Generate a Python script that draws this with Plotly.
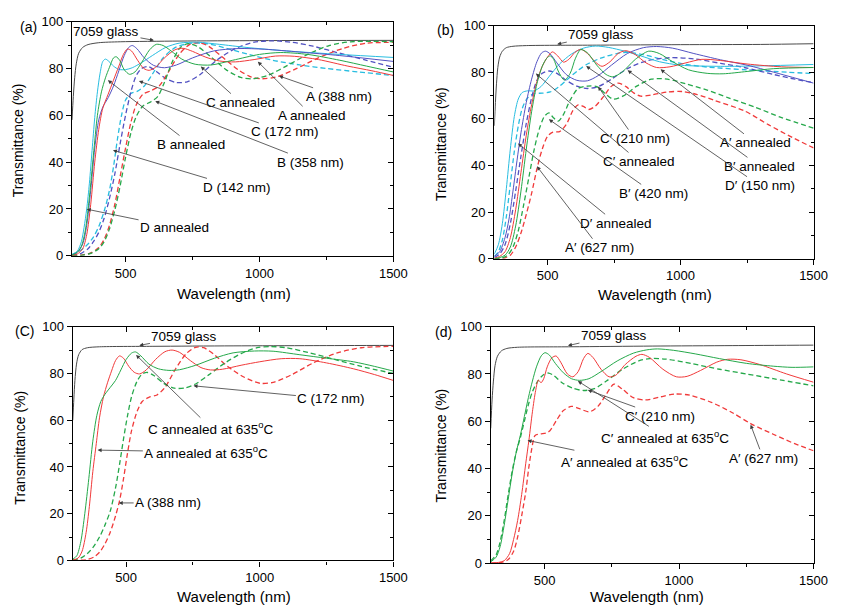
import plotly.graph_objects as go

FONT = "Liberation Sans, Arial, sans-serif"
RED = "#f03a3a"
BLUE = "#5252c2"
GREEN = "#25a84a"
CYAN = "#28bde0"
GLASS = "#4a4a4a"

X_TICKS = [500, 1000, 1500]
Y_TICKS = [0, 20, 40, 60, 80, 100]

# ---------------- panel (a) ----------------
A_GLASS = [(300,58),(305,68),(310,76),(316,82),(325,86.5),(340,89),(360,90.2),(400,91),(480,91.4),(700,91.7),(1000,91.9),(1500,92)]
A_CYAN_S = [(300,0.5),(320,2),(335,6),(345,12),(355,20),(365,31),(375,45),(385,59),(395,70),(405,78),(415,83),(425,84),(438,83),(455,81),(475,79.6),(500,79.5),(525,80.3),(560,82.5),(600,85.5),(650,89),(700,90.8),(770,91.2),(850,90.3),(950,89),(1100,87.5),(1300,86),(1500,84.7)]
A_GREEN_S = [(300,0.3),(320,1.5),(335,4),(350,11),(365,25),(380,43),(395,60),(410,70),(425,76),(440,80.5),(455,84.5),(465,85),(478,83.5),(495,79.5),(515,77.5),(535,78.5),(560,82.5),(590,88),(615,90.3),(640,89.8),(670,87.5),(710,84),(760,81.8),(820,81.5),(900,83.5),(1000,86),(1080,86.8),(1180,86),(1300,83.5),(1400,81),(1500,78.5)]
A_BLUE_S = [(300,0.3),(320,1.5),(340,5),(355,13),(370,28),(385,46),(400,58),(415,63.5),(435,67.5),(455,72.5),(475,79),(495,85.5),(512,89),(525,89.8),(542,88.5),(570,84.5),(605,81.3),(645,80.3),(690,81.5),(750,84.5),(830,87.5),(920,88.5),(1020,88.2),(1150,87),(1300,85.5),(1500,83)]
A_RED_S = [(300,0.2),(320,0.8),(340,3),(355,9),(370,22),(385,40),(400,54),(415,63),(435,69),(455,75),(475,81),(492,86),(507,88.3),(522,87.5),(545,83.5),(568,80),(588,79.2),(612,80.5),(645,84.5),(685,88),(715,88.6),(750,87.3),(800,84.8),(850,83.2),(910,82.8),(980,83.8),(1060,85.3),(1130,85.2),(1220,83.8),(1330,81),(1420,79),(1500,77)]
A_CYAN_D = [(300,0.5),(320,1.5),(340,3),(360,5),(380,8),(400,12.5),(420,19),(440,28),(455,38),(470,50),(485,60),(500,66.5),(520,69.3),(545,70.3),(570,72.5),(600,77.5),(640,84.5),(690,89.2),(750,90.8),(810,90.5),(880,88.5),(960,86),(1050,83.5),(1150,81.5),(1250,80),(1370,78.5),(1500,77)]
A_BLUE_D = [(300,0.2),(330,0.8),(360,3),(380,6),(400,10),(420,16),(440,24.5),(460,35),(480,48),(500,60),(520,70),(540,77),(560,80),(585,80.8),(615,78.7),(650,75.7),(690,74),(730,74.3),(780,77.5),(840,83.5),(910,88.5),(980,91.2),(1050,91.8),(1120,91.2),(1200,89.5),(1300,86.5),(1400,83.5),(1500,80.5)]
A_RED_D = [(300,0),(340,0.4),(370,1.2),(400,3.5),(420,7),(440,13),(460,22),(480,34),(500,46),(520,57),(540,64.5),(565,69),(595,70.5),(625,72.5),(660,78.5),(700,86),(740,90.3),(775,91),(810,89.5),(860,85),(920,79.5),(970,76.3),(1010,75.6),(1060,76.3),(1130,79.5),(1220,84.5),(1310,88.5),(1400,90.8),(1500,91.1)]
A_GREEN_D = [(300,0),(340,0.3),(370,1),(400,3),(420,6),(440,11.5),(460,19.5),(480,30),(500,42),(520,52.5),(540,59.5),(565,64),(595,65.8),(620,68),(645,74),(675,83),(705,89),(735,90.6),(770,89.3),(820,84.8),(875,79.5),(930,76.2),(975,75.6),(1030,77),(1100,81),(1180,86),(1260,89.8),(1340,91.4),(1420,91.6),(1500,91.4)]

# ---------------- panel (b) ----------------
B_GLASS = [(300,57),(304,67),(308,75),(313,82),(320,86.5),(330,89),(345,90.5),(370,91.1),(420,91.4),(700,91.6),(1000,91.8),(1300,91.9),(1500,92.2)]
B_BLUE_S = [(300,1),(320,3),(340,9),(355,17),(370,29),(385,42),(400,54),(420,67),(440,77),(460,84.5),(478,88.3),(493,89),(510,87.8),(535,84),(570,79),(610,76.5),(650,76.3),(690,78.5),(740,83),(800,88),(860,90.5),(910,91),(970,90.3),(1050,88),(1150,85.3),(1250,83),(1350,80),(1420,77.8),(1500,75.3)]
B_CYAN_S = [(300,2),(315,6),(330,15),(345,30),(360,47),(375,61),(390,68.5),(405,71.3),(425,72),(450,72),(475,73.8),(505,78),(545,83.5),(590,87.8),(635,90.3),(680,91.2),(730,90.6),(790,89),(850,87),(920,84.5),(1000,83),(1150,82.5),(1300,82.7),(1500,83.3)]
B_RED_S = [(300,0.2),(320,1),(340,3),(360,9),(380,21),(400,37),(420,53),(440,66),(460,76),(480,82.5),(500,86.5),(518,88.7),(538,87),(560,84.3),(580,85.5),(603,88.5),(625,89.8),(650,88),(680,84.3),(705,82.5),(735,84.5),(765,88),(795,89.2),(830,87.5),(870,84),(910,82),(960,82.3),(1020,84),(1080,85.5),(1150,85),(1250,83.5),(1380,82.3),(1500,82)]
B_GREEN_S = [(300,0),(320,0.5),(340,1.5),(360,5),(380,14),(400,29),(420,47),(440,63),(460,75),(480,82.5),(497,86),(510,87),(523,85.5),(540,80.5),(563,76.6),(585,79.5),(605,86),(625,89.7),(650,88.3),(685,83),(720,79),(745,78),(780,80),(830,85.5),(880,89),(920,88),(970,84.5),(1030,81),(1100,79.5),(1160,79.3),(1250,80.3),(1350,81.5),(1500,82)]
B_CYAN_D = [(300,1),(315,3),(330,8),(345,18),(360,32),(375,46),(390,57),(405,64.5),(425,69),(450,70.8),(480,71),(510,71.5),(540,73.5),(575,77),(615,80.8),(650,83.5),(700,86),(760,88),(800,88.5),(860,87.5),(930,85.5),(1010,83.5),(1100,82.2),(1250,81),(1400,80),(1500,79.4)]
B_BLUE_D = [(300,0.5),(320,2),(340,6),(360,15),(380,29),(400,44),(420,58),(440,69),(460,76.5),(480,79.5),(505,80.5),(535,79.5),(570,76.5),(610,74),(650,73),(690,73.8),(740,77),(800,81.5),(870,84.8),(960,86.2),(1050,85.7),(1150,83.8),(1240,82),(1350,79),(1430,77),(1500,75.5)]
B_GREEN_D = [(300,0),(330,0.4),(350,1.5),(370,5),(390,12),(410,23),(430,35),(450,47),(470,56),(488,61),(505,62.5),(522,60.5),(540,59),(558,61.5),(585,68),(615,73),(650,74),(685,73.8),(715,71),(746,68.5),(785,69.8),(835,74),(890,77),(950,77),(1020,75),(1100,72.3),(1180,69),(1280,65),(1380,60.5),(1500,56)]
B_RED_D = [(300,0),(340,0.4),(360,1.5),(380,5),(400,11),(420,19),(440,28),(460,38.5),(480,47),(500,52.5),(520,54.3),(545,54.5),(570,57.5),(595,63.5),(615,66),(635,65.3),(655,64),(680,65.5),(710,69.5),(740,74),(765,75.3),(795,73.8),(825,71),(850,69.7),(890,70.2),(950,71.5),(1005,71.7),(1060,70.5),(1130,67.8),(1240,63.4),(1330,57.5),(1420,52),(1500,47.5)]

# ---------------- panel (c) ----------------
C_GLASS = [(300,60),(304,69),(308,77),(314,84),(322,88),(335,90.2),(355,91),(400,91.4),(600,91.6),(900,91.8),(1200,91.9),(1500,92)]
C_GREEN_S = [(300,0.5),(315,2),(330,8),(345,20),(360,35),(375,51),(390,62),(405,68),(420,71),(440,74),(460,77),(480,81.5),(500,86),(520,88.7),(535,89.2),(555,87.5),(585,84),(620,82),(660,81.3),(700,81.6),(760,83.5),(830,86.5),(900,88.8),(980,89.6),(1050,89.5),(1150,88),(1250,86.5),(1350,85),(1430,83),(1500,81)]
C_RED_S = [(300,0.2),(320,1),(335,4),(350,12),(362,23),(375,38),(388,50),(400,61),(415,70),(430,76),(445,81),(460,85.5),(475,87.5),(490,86.5),(510,83),(530,80.5),(550,79.8),(575,81.5),(610,86),(645,89.3),(672,90),(700,89),(740,85.5),(780,82.5),(815,81.5),(860,81.8),(930,83.5),(1000,85),(1080,86.3),(1150,86.3),(1250,84.5),(1350,82),(1430,79.5),(1500,77)]
C_GREEN_D = [(300,0.2),(330,1),(355,3),(375,5.5),(400,10),(420,15),(440,21),(460,31),(475,41),(490,52),(505,62),(520,70),(540,76.5),(560,79.8),(580,80.4),(605,79),(640,75.8),(680,73.7),(720,73.8),(760,75.5),(810,79.5),(870,84.5),(930,88.5),(990,91),(1040,91.5),(1100,91),(1180,89),(1280,86),(1380,83),(1500,80)]
C_RED_D = [(300,0),(350,0.3),(380,1.5),(400,3.5),(420,7),(440,12),(460,19),(475,25.5),(490,35),(505,46),(520,55.5),(540,63.5),(560,68),(585,69.8),(615,70.8),(645,74),(685,82),(725,88.5),(760,91.2),(790,91),(830,88),(880,83),(940,78.5),(1000,75.8),(1050,76.2),(1120,79.5),(1200,84.5),(1290,88.8),(1380,91),(1500,91.6)]

# ---------------- panel (d) ----------------
D_GLASS = [(300,57),(305,69),(310,77),(316,83.5),(325,87.5),(340,89.8),(360,90.8),(400,91.3),(600,91.5),(900,91.8),(1200,92),(1500,92.2)]
D_GREEN_S = [(300,0.5),(320,2.5),(335,7),(350,16),(365,27),(380,38),(395,47),(410,54),(425,62),(440,70),(455,77),(470,83),(488,87.7),(502,89),(518,88),(540,84.5),(570,80.5),(600,78),(630,77.3),(665,78),(710,81),(770,85.5),(830,88.8),(880,90.2),(920,90.6),(980,90),(1060,88.5),(1150,86.5),(1250,84.5),(1350,83.3),(1420,82.8),(1500,83)]
D_GREEN_D = [(300,1),(320,3.5),(335,9),(350,18),(365,29),(380,39),(395,47),(410,53),(425,60),(440,67),(455,72.5),(475,77),(495,79.6),(515,80.4),(535,79.3),(565,76.3),(605,74),(645,73),(685,73.8),(730,77),(790,82),(850,85.5),(890,86.5),(950,86.3),(1050,84.3),(1150,82),(1250,80),(1350,78),(1500,75)]
D_RED_S = [(300,0),(330,0.3),(350,1),(370,4),(385,10),(400,18),(415,29),(430,42),(442,52),(455,64),(467,73),(477,77.4),(487,76.3),(497,78),(510,83),(527,86.8),(543,87.6),(560,85),(585,80),(605,78.8),(625,81),(645,86.5),(661,88.7),(680,87),(710,82),(740,78.8),(765,79.5),(800,84),(840,87.5),(862,88.3),(890,87),(940,82),(990,78.8),(1030,79),(1080,81.5),(1140,85),(1180,86.2),(1230,86),(1300,84),(1400,80),(1500,76.5)]
D_RED_D = [(300,0),(340,0.3),(365,1.5),(385,5),(400,11),(415,20),(430,30),(441,40),(452,48),(465,54),(485,54.6),(505,55),(520,56),(545,60.5),(570,64.5),(600,66.3),(630,65.3),(667,64),(700,66.5),(730,71.5),(758,75.7),(790,73.5),(830,70),(875,69),(930,70.3),(985,71.5),(1040,71),(1120,68),(1200,63.5),(1266,59),(1350,54.5),(1430,50.5),(1500,47.5)]

# annotations: (text, text_x_nm, text_y_T, head_x_nm, head_y_T)
A_LABELS = [
    ("7059 glass", 427, 95.8, 606, 92.0),
    ("C annealed", 931, 65.4, 781, 80.8),
    ("A annealed", 1195, 60.0, 994, 82.9),
    ("A (388 nm)", 1297, 67.9, 1073, 76.8),
    ("C (172 nm)", 1094, 52.9, 550, 74.6),
    ("B annealed", 745, 47.5, 434, 75.0),
    ("B (358 nm)", 1192, 40.0, 611, 66.0),
    ("D (142 nm)", 916, 29.2, 453, 45.1),
    ("D annealed", 683, 12.2, 355, 19.9),
]
B_LABELS = [
    ("7059 glass", 702, 96.1, 536, 92.0),
    ("C′ (210 nm)", 828, 51.5, 690, 73.8),
    ("A′ annealed", 1282, 49.7, 925, 81.2),
    ("C′ annealed", 844, 41.7, 456, 79.4),
    ("B′ annealed", 1298, 39.6, 801, 80.8),
    ("D′ (150 nm)", 1299, 31.3, 645, 82.6),
    ("B′ (420 nm)", 900, 28.0, 505, 59.8),
    ("D′ annealed", 758, 15.2, 389, 49.4),
    ("A′ (627 nm)", 695, 4.7, 460, 39.6),
]
C_LABELS = [
    ("7059 glass", 718, 95.6, 549, 92.0),
    ("C (172 nm)", 1268, 69.1, 752, 74.7),
    ("C annealed at 635<sup>o</sup>C", 818, 56.6, 537, 87.9),
    ("A annealed at 635<sup>o</sup>C", 800, 46.4, 393, 47.2),
    ("A (388 nm)", 657, 24.6, 472, 24.6),
]
D_LABELS = [
    ("7059 glass", 758, 96.3, 587, 92.0),
    ("C′ (210 nm)", 930, 62.2, 661, 73.2),
    ("C′ annealed at 635<sup>o</sup>C", 949, 53.4, 624, 77.0),
    ("A′ (627 nm)", 1313, 44.3, 1266, 58.5),
    ("A′ annealed at 635<sup>o</sup>C", 797, 43.3, 437, 51.9),
]

PANEL_LETTERS = ["(a)", "(b)", "(C)", "(d)"]

# panel geometry in pixels of the 844x614 page: left, right, top(100%), bottom(0%)
W, H = 844, 614
PANELS = [
    (73.2, 400.0, 15.0, 255.0),
    (502.7, 827.3, 19.0, 258.0),
    (74.0, 400.0, 327.7, 567.3),
    (499.0, 827.3, 327.7, 570.0),
]

fig = go.Figure()

def add_curve(pts, color, panel, dash="solid", width=1.0):
    xs = [p[0] for p in pts]
    ys = [p[1] for p in pts]
    sfx = "" if panel == 1 else str(panel)
    fig.add_trace(go.Scatter(
        x=xs, y=ys, mode="lines",
        line=dict(color=color, width=width, dash=dash, shape="spline", smoothing=0.8),
        xaxis="x" + sfx, yaxis="y" + sfx, showlegend=False, hoverinfo="skip"))

DASH = "5px,3px"
DW = 1.3

# panel a
add_curve(A_GLASS, GLASS, 1)
for pts, col in [(A_CYAN_D, CYAN), (A_BLUE_D, BLUE), (A_RED_D, RED), (A_GREEN_D, GREEN)]:
    add_curve(pts, col, 1, DASH, DW)
for pts, col in [(A_CYAN_S, CYAN), (A_BLUE_S, BLUE), (A_RED_S, RED), (A_GREEN_S, GREEN)]:
    add_curve(pts, col, 1)
# panel b
add_curve(B_GLASS, GLASS, 2)
for pts, col in [(B_CYAN_D, CYAN), (B_BLUE_D, BLUE), (B_RED_D, RED), (B_GREEN_D, GREEN)]:
    add_curve(pts, col, 2, DASH, DW)
for pts, col in [(B_CYAN_S, CYAN), (B_BLUE_S, BLUE), (B_RED_S, RED), (B_GREEN_S, GREEN)]:
    add_curve(pts, col, 2)
# panel c
add_curve(C_GLASS, GLASS, 3)
add_curve(C_RED_D, RED, 3, DASH, DW)
add_curve(C_GREEN_D, GREEN, 3, DASH, DW)
add_curve(C_RED_S, RED, 3)
add_curve(C_GREEN_S, GREEN, 3)
# panel d
add_curve(D_GLASS, GLASS, 4)
add_curve(D_RED_D, RED, 4, DASH, DW)
add_curve(D_GREEN_D, GREEN, 4, DASH, DW)
add_curve(D_RED_S, RED, 4)
add_curve(D_GREEN_S, GREEN, 4)

layout = dict(
    width=W, height=H, margin=dict(l=0, r=0, t=0, b=0),
    paper_bgcolor="white", plot_bgcolor="white",
    font=dict(family=FONT, size=13, color="black"),
    showlegend=False,
)

annotations = []
tickfont = dict(family=FONT, size=13, color="black")
for i, (l, r, t, b) in enumerate(PANELS):
    n = i + 1
    sfx = "" if n == 1 else str(n)
    ov = str(n + 4)
    xd = [l / W, r / W]
    yd = [1 - b / H, 1 - t / H]
    layout["xaxis" + sfx] = dict(
        domain=xd, range=[300, 1500], anchor="y" + sfx,
        tickmode="array", tickvals=X_TICKS, ticks="outside", ticklen=5, tickwidth=1.2,
        tickcolor="black", showline=True, linecolor="black", linewidth=1.4, mirror=True,
        showgrid=False, zeroline=False, tickfont=tickfont,
        minor=dict(tickmode="array", tickvals=[750, 1250], ticks="outside", ticklen=3, tickwidth=1.1, tickcolor="black"),
    )
    layout["yaxis" + sfx] = dict(
        domain=yd, range=[0, 100], anchor="x" + sfx,
        tickmode="array", tickvals=Y_TICKS, ticks="outside", ticklen=5, tickwidth=1.2,
        tickcolor="black", showline=True, linecolor="black", linewidth=1.4, mirror=True,
        showgrid=False, zeroline=False, tickfont=tickfont,
        minor=dict(tickmode="array", tickvals=[10, 30, 50, 70, 90], ticks="outside", ticklen=3, tickwidth=1.1, tickcolor="black"),
    )
    # overlay axes for inward ticks on top and right
    layout["xaxis" + ov] = dict(
        overlaying="x" + sfx, anchor="y" + ov, side="top", range=[300, 1500],
        tickmode="array", tickvals=X_TICKS, ticks="inside", ticklen=5, tickwidth=1.2, tickcolor="black",
        showticklabels=False, showline=False, showgrid=False, zeroline=False,
        minor=dict(tickmode="array", tickvals=[750, 1250], ticks="inside", ticklen=3, tickwidth=1.1, tickcolor="black"),
    )
    layout["yaxis" + ov] = dict(
        overlaying="y" + sfx, anchor="x" + ov, side="right", range=[0, 100],
        tickmode="array", tickvals=Y_TICKS, ticks="inside", ticklen=5, tickwidth=1.2, tickcolor="black",
        showticklabels=False, showline=False, showgrid=False, zeroline=False,
        minor=dict(tickmode="array", tickvals=[10, 30, 50, 70, 90], ticks="inside", ticklen=3, tickwidth=1.1, tickcolor="black"),
    )
    fig.add_trace(go.Scatter(x=[None], y=[None], xaxis="x" + ov, yaxis="y" + ov,
                             showlegend=False, hoverinfo="skip"))

# axis titles and panel letters (paper coordinates)
YT_POS = [(18, 137), (448, 141), (20, 452), (448, 450)]
XT_POS = [(238, 294), (666, 295), (238, 604), (658, 604)]
LETTER_POS = [(29, 20), (453, 24), (25, 332), (451, 333)]
for i in range(4):
    annotations.append(dict(text="Transmittance (%)", x=YT_POS[i][0] / W, y=1 - YT_POS[i][1] / H,
                            xref="paper", yref="paper", showarrow=False, textangle=-90,
                            font=dict(family=FONT, size=14, color="black"), xanchor="center", yanchor="middle"))
    annotations.append(dict(text="Wavelength (nm)", x=XT_POS[i][0] / W, y=1 - XT_POS[i][1] / H,
                            xref="paper", yref="paper", showarrow=False,
                            font=dict(family=FONT, size=15, color="black"), xanchor="center", yanchor="middle"))
    annotations.append(dict(text=PANEL_LETTERS[i], x=LETTER_POS[i][0] / W, y=1 - LETTER_POS[i][1] / H,
                            xref="paper", yref="paper", showarrow=False,
                            font=dict(family=FONT, size=14, color="black"), xanchor="center", yanchor="middle"))

for n, labels in enumerate([A_LABELS, B_LABELS, C_LABELS, D_LABELS], start=1):
    sfx = "" if n == 1 else str(n)
    for text, tx, ty, hx, hy in labels:
        annotations.append(dict(
            text=text, x=hx, y=hy, ax=tx, ay=ty,
            xref="x" + sfx, yref="y" + sfx, axref="x" + sfx, ayref="y" + sfx,
            showarrow=True, arrowhead=2, arrowsize=1.0, arrowwidth=0.8, arrowcolor="#3a3a3a",
            font=dict(family=FONT, size=13.5, color="black"), standoff=0,
        ))

layout["annotations"] = annotations
fig.update_layout(**layout)
fig.write_html(
    "out.html",
    post_script="document.body.style.margin='0';document.body.style.padding='0';document.documentElement.style.overflow='hidden';",
)
